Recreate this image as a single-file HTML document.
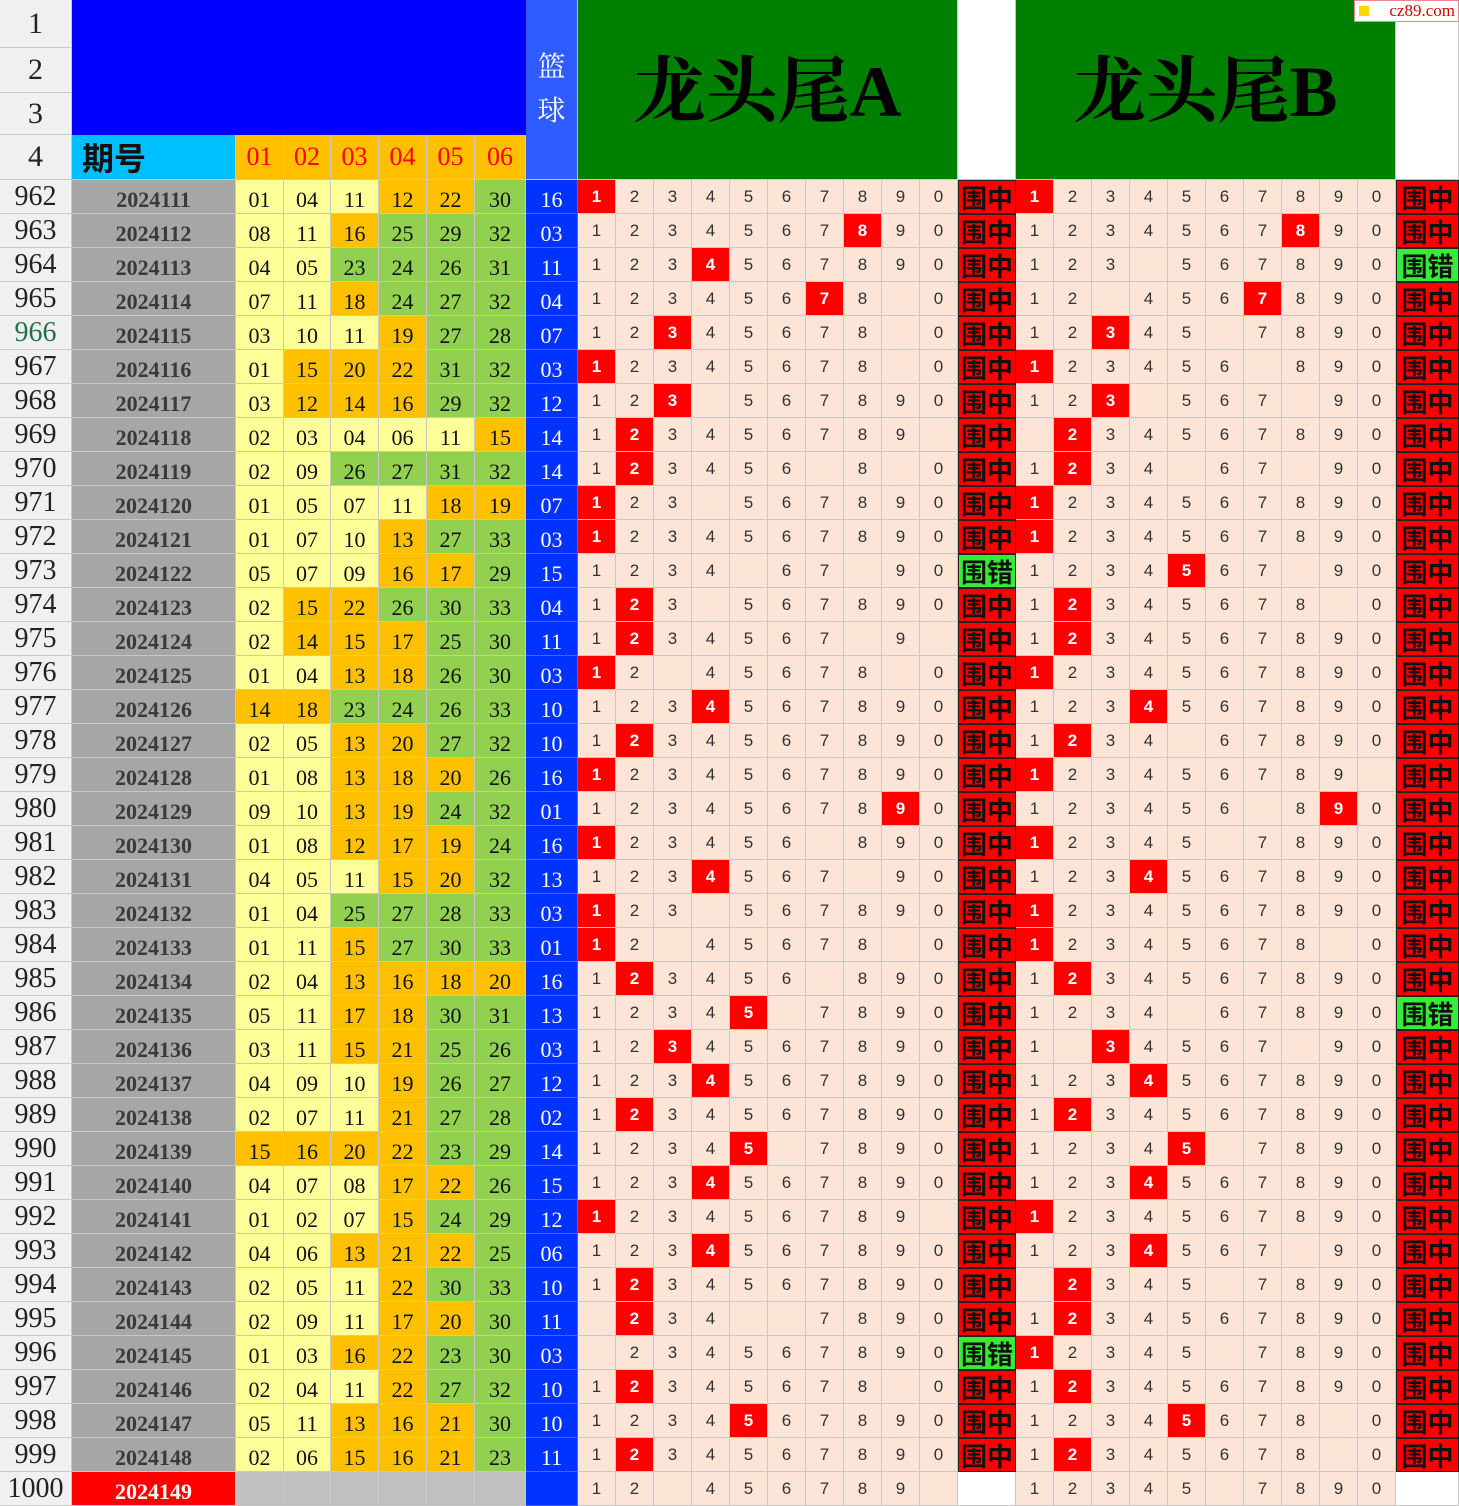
<!DOCTYPE html>
<html><head><meta charset="utf-8">
<style>
body{margin:0;width:1459px;height:1505px;position:relative;overflow:hidden;background:#fff;font-family:"Liberation Serif","Noto Serif CJK SC",serif}
.c{position:absolute;box-sizing:border-box;display:flex;align-items:center;justify-content:center;border-right:1px solid #c8c8c8;border-bottom:1px solid #c8c8c8;white-space:nowrap}
</style></head><body>
<script>
const X=[0,72,236,284,331,379,427,475,526,578];
for(let i=1;i<=10;i++)X.push(578+38*i);
X.push(1016);
for(let i=1;i<=10;i++)X.push(1016+38*i);
X.push(1459);
function cell(x,y,w,h,bg,txt,st){const d=document.createElement('div');d.className='c';d.style.cssText=`left:${x}px;top:${y}px;width:${w}px;height:${h}px;background:${bg};`+(st||'');d.textContent=txt;document.body.appendChild(d);return d;}
const HY=[0,48,93,135,180];
for(let r=0;r<4;r++)cell(0,HY[r],72,HY[r+1]-HY[r],'#f0f0f0',String(r+1),'font-size:30px;color:#222;');
cell(72,0,454,135,'#0000ff','','border:none;');
cell(72,135,164,45,'#00bfff','期号','font-size:32px;font-weight:bold;color:#111;justify-content:flex-start;padding-left:10px;font-family:"Liberation Sans","Noto Sans CJK SC",sans-serif;');
for(let i=0;i<6;i++)cell(X[2+i],135,X[3+i]-X[2+i],45,'#ffc000','0'+(i+1),'font-size:26px;color:#ff0000;');
cell(526,0,52,180,'#2f5cff','','font-size:28px;color:#fff;flex-direction:column;line-height:44px;padding-bottom:0px;').innerHTML='篮<br>球';
cell(578,0,380,180,'#008000','龙头尾A','font-size:72px;color:#000;padding-bottom:10px;font-weight:bold;');
cell(958,0,58,180,'#ffffff','');
cell(1016,0,380,180,'#008000','龙头尾B','font-size:72px;color:#000;padding-bottom:10px;font-weight:bold;');
cell(1396,0,63,180,'#ffffff','');
const lg=cell(1354,0,105,22,'#fff','cz89.com','font-size:17px;color:#d00;border:1px solid #e88;justify-content:flex-end;padding-right:3px;');
const sq=document.createElement('span');sq.style.cssText='position:absolute;left:4px;top:5px;width:10px;height:10px;background:#ffd700';lg.appendChild(sq);
const N=`01 04 11 12 22 30
08 11 16 25 29 32
04 05 23 24 26 31
07 11 18 24 27 32
03 10 11 19 27 28
01 15 20 22 31 32
03 12 14 16 29 32
02 03 04 06 11 15
02 09 26 27 31 32
01 05 07 11 18 19
01 07 10 13 27 33
05 07 09 16 17 29
02 15 22 26 30 33
02 14 15 17 25 30
01 04 13 18 26 30
14 18 23 24 26 33
02 05 13 20 27 32
01 08 13 18 20 26
09 10 13 19 24 32
01 08 12 17 19 24
04 05 11 15 20 32
01 04 25 27 28 33
01 11 15 27 30 33
02 04 13 16 18 20
05 11 17 18 30 31
03 11 15 21 25 26
04 09 10 19 26 27
02 07 11 21 27 28
15 16 20 22 23 29
04 07 08 17 22 26
01 02 07 15 24 29
04 06 13 21 22 25
02 05 11 22 30 33
02 09 11 17 20 30
01 03 16 22 23 30
02 04 11 22 27 32
05 11 13 16 21 30
02 06 15 16 21 23`.split('\n').map(l=>l.split(' '));
const B='16 03 11 04 07 03 12 14 14 07 03 15 04 11 03 10 10 16 01 16 13 03 01 16 13 03 12 02 14 15 12 06 10 11 03 10 10 11'.split(' ');
const G=`*1234567890z *1234567890z
1234567*890z 1234567*890z
123*4567890z 123_567890c
123456*78_0z 12_456*7890z
12*345678_0z 12*345_7890z
*12345678_0z *123456_890z
12*3_567890z 12*3_567_90z
1*23456789_z _*234567890z
1*23456_8_0z 1*234_67_90z
*123_567890z *1234567890z
*1234567890z *1234567890z
1234_67_90c 1234*567_90z
1*23_567890z 1*2345678_0z
1*234567_9_z 1*234567890z
*12_45678_0z *1234567890z
123*4567890z 123*4567890z
1*234567890z 1*234_67890z
*1234567890z *123456789_z
12345678*90z 123456_8*90z
*123456_890z *12345_7890z
123*4567_90z 123*4567890z
*123_567890z *1234567890z
*12_45678_0z *12345678_0z
1*23456_890z 1*234567890z
1234*5_7890z 1234_67890c
12*34567890z 1_*34567_90z
123*4567890z 123*4567890z
1*234567890z 1*234567890z
1234*5_7890z 1234*5_7890z
123*4567890z 123*4567890z
*123456789_z *1234567890z
123*4567890z 123*4567_90z
1*234567890z _*2345_7890z
_*234__7890z 1*234567890z
_234567890c *12345_7890z
1*2345678_0z 1*234567890z
1234*567890z 1234*5678_0z
1*234567890z 1*2345678_0z
12_456789_n 12345_7890n`.split('\n');
function parse(s){const out=[];let hl=false;for(const ch of s){if(ch=='*'){hl=true;continue;}out.push({t:ch=='_'?'':ch,h:hl});hl=false;}return out;}
function col(v){const n=+v;return n<=11?'#ffff99':n<=22?'#ffc000':'#92d050';}
for(let i=0;i<39;i++){
 const y=180+34*i,h=34;
 cell(0,y,72,h,'#f0f0f0',String(962+i),'font-size:28px;color:'+(i==4?'#217346':'#222')+';');
 const last=i==38;
 cell(72,y,164,h,last?'#ff0000':'#a6a6a6',String(2024111+i),'font-size:22px;font-weight:bold;color:'+(last?'#fff':'#3a3a3a')+';padding-top:6px;');
 for(let k=0;k<6;k++){const v=last?'':N[i][k];cell(X[2+k],y,X[3+k]-X[2+k],h,last?'#c0c0c0':col(v),v,'font-size:22px;color:#111;padding-top:6px;');}
 cell(526,y,52,h,'#0033ff',last?'':B[i],'font-size:22px;color:#fff;padding-top:6px;border-color:#4466ff;');
 const parts=G[i].split(' ');
 for(let s=0;s<2;s++){
  const p=parts[s];const res=p.slice(-1);const cells=parse(p.slice(0,-1));
  const base=s==0?9:20;
  for(let k=0;k<10;k++){const c=cells[k];cell(X[base+k],y,38,h,c.h?'#ff0000':'#fce4d6',c.t,'font-size:17px;font-family:"Liberation Sans",sans-serif;color:'+(c.h?'#fff;font-weight:bold':'#333')+';');}
  const rx=s==0?958:1396,rw=s==0?58:63;
  if(res=='n')cell(rx,y,rw,h,'#fff','');
  else cell(rx,y,rw,h,res=='z'?'#ff0000':'#33ee33',res=='z'?'围中':'围错','font-size:26px;font-weight:bold;color:#111;font-family:"Noto Sans CJK SC",sans-serif;border:1px solid #222;');
 }
}
</script>
</body></html>
